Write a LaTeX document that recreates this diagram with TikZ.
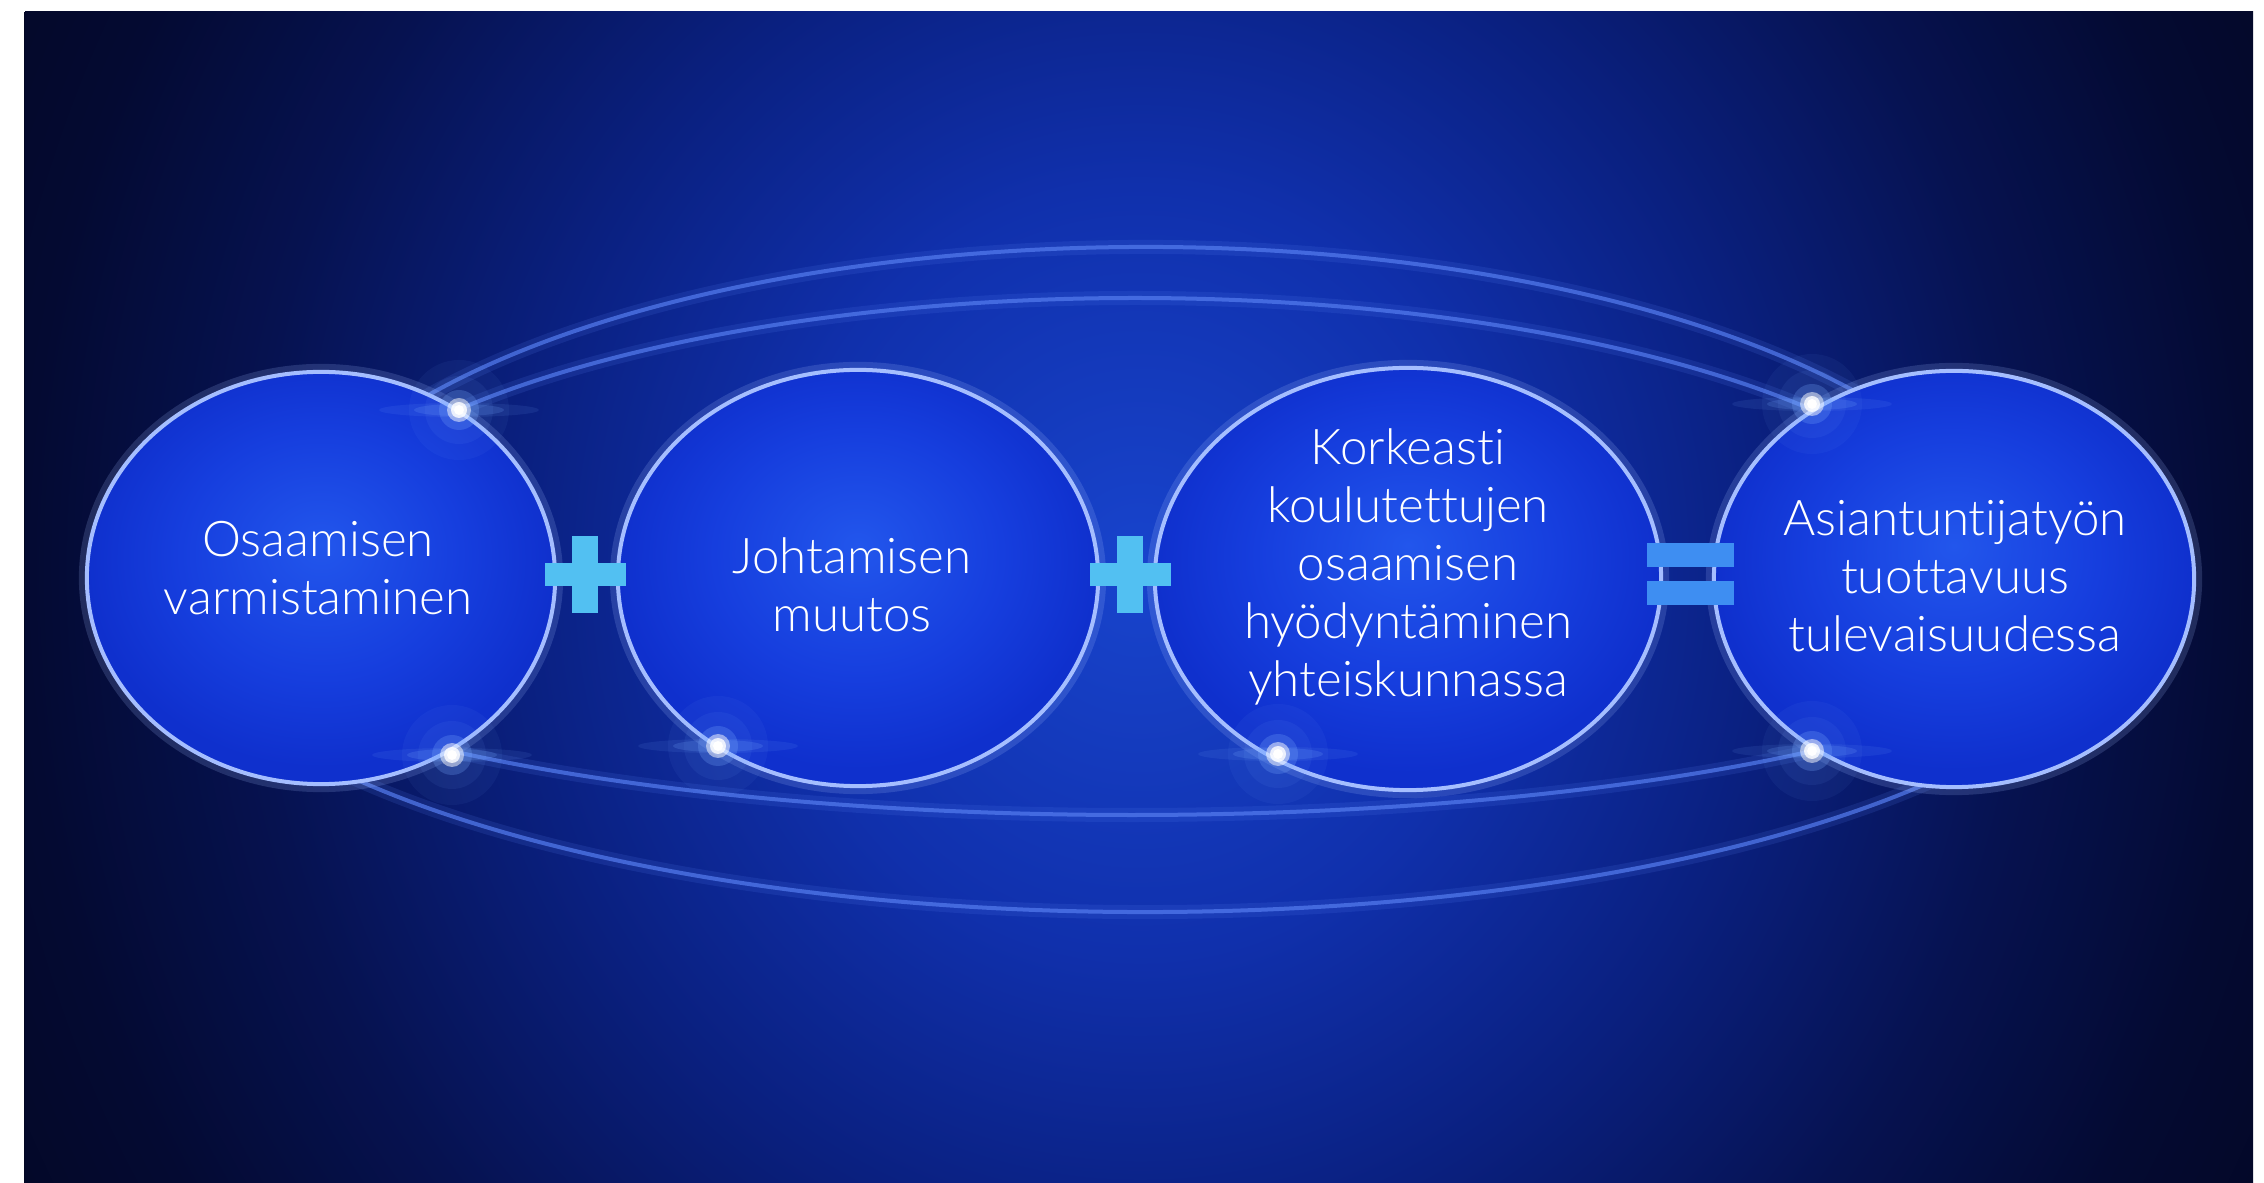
\documentclass[tikz,border=0pt]{standalone}
\usepackage{fontspec}
\setmainfont{Lato Light}[Ligatures=NoCommon]
\usetikzlibrary{shapes.geometric}
\definecolor{bgA}{RGB}{24,68,205}
\definecolor{bgB}{RGB}{16,48,172}
\definecolor{bgC}{RGB}{10,32,128}
\definecolor{bgD}{RGB}{6,18,80}
\definecolor{bgE}{RGB}{4,10,50}
\definecolor{bgF}{RGB}{3,7,35}
\definecolor{bubA}{RGB}{34,86,236}
\definecolor{bubB}{RGB}{22,62,222}
\definecolor{bubC}{RGB}{15,48,205}
\definecolor{rimc}{RGB}{165,190,255}
\definecolor{ringc}{RGB}{85,125,240}
\definecolor{flarec}{RGB}{120,170,255}
\definecolor{pluscol}{RGB}{82,192,242}
\definecolor{eqcol}{RGB}{62,142,242}
\pgfdeclareradialshading{bgshade}{\pgfpoint{0bp}{0bp}}{color(0bp)=(bgA); color(8bp)=(bgB); color(14bp)=(bgC); color(20bp)=(bgD); color(25bp)=(bgE); color(30bp)=(bgF); color(50bp)=(bgF)}
\pgfdeclareradialshading{bubshade}{\pgfpoint{0bp}{4bp}}{color(0bp)=(bubA); color(15bp)=(bubB); color(25bp)=(bubC); color(50bp)=(bubC)}
\tikzset{
  bubble/.style={ellipse, inner sep=0pt, outer sep=0pt, shading=bubshade,
    draw=rimc, line width=0.04cm,
    preaction={draw=rimc, line width=0.16cm, opacity=0.18}},
  ring/.style={draw=ringc, line width=0.04cm, opacity=0.7,
    preaction={draw=ringc, line width=0.14cm, opacity=0.15}},
  label/.style={text=white, align=center, font=\fontsize{14}{16.5}\selectfont, inner sep=0pt},
}
\begin{document}
\begin{tikzpicture}[x=0.01cm, y=-0.01cm]
\useasboundingbox (0,0) rectangle (2264,1183);
\fill[white] (0,0) rectangle (2264,1183);
% background
\begin{scope}
  \clip (24,12) rectangle (2253,1183);
  \fill[bgF] (24,12) rectangle (2253,1183);
  \shade[shading=bgshade] (25,-630) rectangle (2255,1770);
\end{scope}
% orbit rings
\draw[ring, shift={(1145,600)}] (210:880 and 353) arc[start angle=210, end angle=328, x radius=880, y radius=353];
\draw[ring, shift={(1135,600)}] (214:872 and 302) arc[start angle=214, end angle=326, x radius=872, y radius=302];
\draw[ring, shift={(1146,580)}] (30:988 and 332) arc[start angle=30, end angle=150, x radius=988, y radius=332];
\draw[ring, shift={(1132,580)}] (42:992 and 235) arc[start angle=42, end angle=138, x radius=992, y radius=235];
% bubbles
\node[bubble, minimum width=4.68cm, minimum height=4.12cm] (b1) at (321,578) {};
\node[bubble, minimum width=4.80cm, minimum height=4.16cm] (b2) at (858,578) {};
\node[bubble, minimum width=5.06cm, minimum height=4.22cm] (b3) at (1408,579) {};
\node[bubble, minimum width=4.80cm, minimum height=4.16cm] (b4) at (1954,579) {};
% flares
\foreach \fx/\fy in {459/410, 1812/404, 452/755, 718/746, 1278/754, 1812/751}{
  \fill[flarec, opacity=0.06] (\fx,\fy) circle[radius=50];
  \fill[flarec, opacity=0.08] (\fx,\fy) circle[radius=34];
  \fill[flarec, opacity=0.10] (\fx,\fy) ellipse[x radius=80, y radius=7];
  \fill[flarec, opacity=0.18] (\fx,\fy) ellipse[x radius=45, y radius=6];
  \fill[flarec, opacity=0.25] (\fx,\fy) circle[radius=20];
  \fill[white, opacity=0.5] (\fx,\fy) circle[radius=12];
  \fill[white, opacity=0.8] (\fx,\fy) circle[radius=8];
  \fill[white] (\fx,\fy) circle[radius=5];
}
% operators
\fill[pluscol] (545,563) rectangle (626,586);
\fill[pluscol] (572,536) rectangle (598,613);
\fill[pluscol] (1090,563) rectangle (1171,586);
\fill[pluscol] (1117,536) rectangle (1143,613);
\fill[eqcol] (1647,543) rectangle (1734,567);
\fill[eqcol] (1647,581) rectangle (1734,605);
% texts
\node[label] (t1) at (318,568) {Osaamisen\\varmistaminen};
\node[label] (t2) at (852,585) {Johtamisen\\muutos};
\node[label] (t3) at (1408,567) {Korkeasti\\koulutettujen\\osaamisen\\hyödyntäminen\\yhteiskunnassa};
\node[label] (t4) at (1955,576) {Asiantuntijatyön\\tuottavuus\\tulevaisuudessa};
\end{tikzpicture}
\end{document}
